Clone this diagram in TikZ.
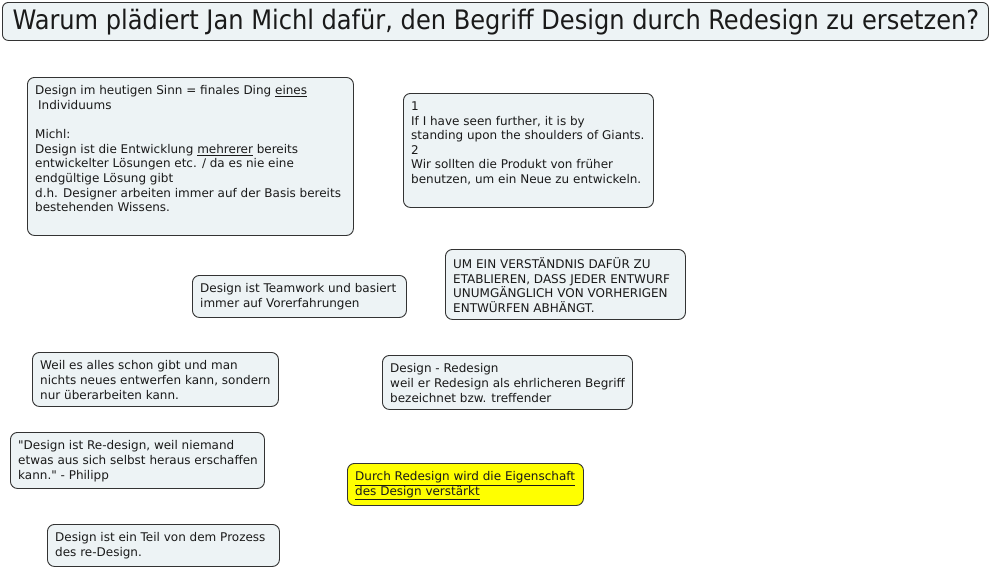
\documentclass[tikz,border=0pt]{standalone}
\usepackage{fontspec}
\setmainfont{DejaVu Sans}[Ligatures=TeXOff]
\newfontfamily\titlefont{DejaVu Sans Condensed}[Ligatures=TeXOff]
\definecolor{boxfill}{HTML}{EDF3F5}
\definecolor{boxline}{HTML}{333333}
\definecolor{hilite}{HTML}{FFFF00}
\definecolor{txtcol}{HTML}{1A1A1A}
\newcommand{\ul}[1]{\underline{#1}}
\begin{document}
\begin{tikzpicture}[x=1pt,y=-1pt,
  box/.style={draw=boxline, line width=0.9pt, fill=boxfill, rounded corners=7pt, anchor=north west, inner sep=0pt},
  ybox/.style={box, fill=hilite},
  txt/.style={anchor=north west, inner sep=0pt, align=left, text=txtcol,
    font=\fontsize{12}{14.6}\selectfont},
]
\useasboundingbox (0,0) rectangle (991,568);
\fill[white] (0,0) rectangle (991,568);

% title
\node[box, minimum width=986pt, minimum height=38pt, rounded corners=6pt] (title) at (2,2) {};
\node[anchor=center, inner sep=0pt, text=txtcol, font=\titlefont\fontsize{26.8}{30}\selectfont] (titletext) at ([xshift=0.5pt,yshift=-1pt]title.center) {Warum plädiert Jan Michl dafür, den Begriff Design durch Redesign zu ersetzen?};

% box 1
\node[box, minimum width=326pt, minimum height=158pt] (b1) at (27,77) {};
\node[txt] (t1) at ([xshift=8pt,yshift=-8.5pt]b1.north west) {Design im heutigen Sinn = finales Ding \ul{eines}\\
\hspace*{3pt}Individuums\\[14.6pt]
Michl:\\
Design ist die Entwicklung \ul{mehrerer} bereits\\
entwickelter Lösungen etc. / da es nie eine\\
endgültige Lösung gibt\\
d.h. Designer arbeiten immer auf der Basis bereits\\
bestehenden Wissens.};

% box 2
\node[box, minimum width=250pt, minimum height=114pt] (b2) at (403,93) {};
\node[txt] (t2) at ([xshift=8pt,yshift=-8.5pt]b2.north west) {1\\
If I have seen further, it is by\\
standing upon the shoulders of Giants.\\
2\\
Wir sollten die Produkt von früher\\
benutzen, um ein Neue zu entwickeln.};

% box 3
\node[box, minimum width=214pt, minimum height=42pt] (b3) at (192,275) {};
\node[txt] (t3) at ([xshift=8pt,yshift=-8.5pt]b3.north west) {Design ist Teamwork und basiert\\
immer auf Vorerfahrungen};

% box 4
\node[box, minimum width=240pt, minimum height=70pt] (b4) at (445,249) {};
\node[txt] (t4) at ([xshift=8pt,yshift=-8.5pt]b4.north west) {UM EIN VERSTÄNDNIS DAFÜR ZU\\
ETABLIEREN, DASS JEDER ENTWURF\\
UNUMGÄNGLICH VON VORHERIGEN\\
ENTWÜRFEN ABHÄNGT.};

% box 5
\node[box, minimum width=246pt, minimum height=54pt] (b5) at (32,352) {};
\node[txt] (t5) at ([xshift=8pt,yshift=-8.5pt]b5.north west) {Weil es alles schon gibt und man\\
nichts neues entwerfen kann, sondern\\
nur überarbeiten kann.};

% box 6
\node[box, minimum width=250pt, minimum height=54pt] (b6) at (382,355) {};
\node[txt] (t6) at ([xshift=8pt,yshift=-8.5pt]b6.north west) {Design - Redesign\\
weil er Redesign als ehrlicheren Begriff\\
bezeichnet bzw. treffender};

% box 7
\node[box, minimum width=254pt, minimum height=56pt] (b7) at (10,432) {};
\node[txt] (t7) at ([xshift=8pt,yshift=-8.5pt]b7.north west) {"Design ist Re-design, weil niemand\\
etwas aus sich selbst heraus erschaffen\\
kann." - Philipp};

% box 8 (yellow)
\node[ybox, minimum width=236pt, minimum height=42pt] (b8) at (347,463) {};
\node[txt] (t8) at ([xshift=8pt,yshift=-8.5pt]b8.north west) {\ul{Durch Redesign wird die Eigenschaft}\\
\ul{des Design verstärkt}};

% box 9
\node[box, minimum width=232pt, minimum height=42pt] (b9) at (47,524) {};
\node[txt] (t9) at ([xshift=8pt,yshift=-8.5pt]b9.north west) {Design ist ein Teil von dem Prozess\\
des re-Design.};
\end{tikzpicture}
\end{document}
